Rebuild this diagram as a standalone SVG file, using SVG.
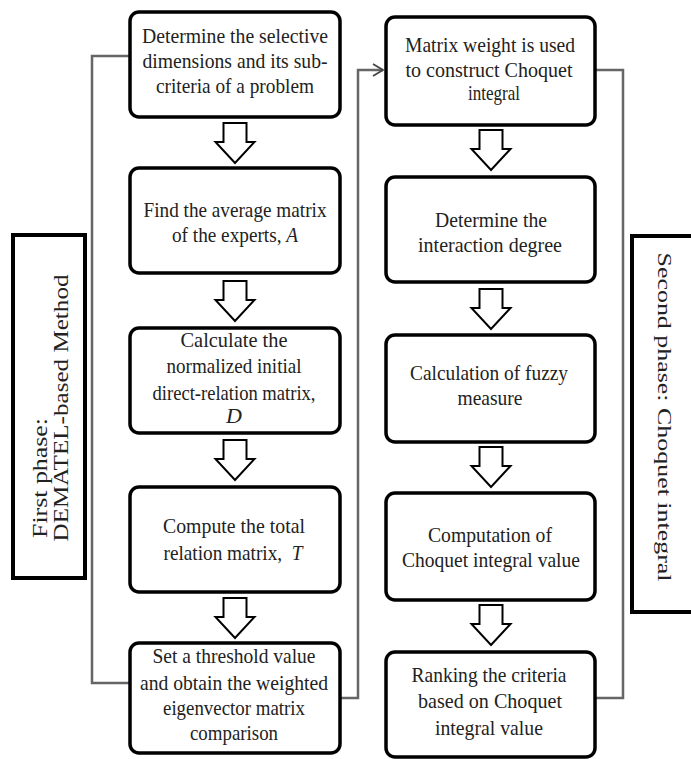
<svg xmlns="http://www.w3.org/2000/svg" width="691" height="759" viewBox="0 0 691 759">
<style>
.box{fill:#fff;stroke:#000;stroke-width:3.5}
.lab{fill:#fff;stroke:#000;stroke-width:4}
.arr{fill:#fff;stroke:#000;stroke-width:2;stroke-linejoin:miter}
.con{fill:none;stroke:#666;stroke-width:2.5}
text{font-family:"Liberation Serif","Times New Roman",serif;font-size:22px;fill:#222}
.t{text-anchor:middle}
.it{font-style:italic}
</style>
<defs>
<marker id="open" markerWidth="14" markerHeight="14" refX="12" refY="7" orient="auto" markerUnits="userSpaceOnUse">
<path d="M2,1 L12,7 L2,13" fill="none" stroke="#444" stroke-width="1.8"/>
</marker>
<path id="dn" d="M-11.5,0 H11.5 V19 H19.5 L0,40 L-19.5,19 H-11.5 Z"/>
</defs>
<g id="connectors">
<polyline class="con" points="130,56 92,56 92,683 130,683"/>
<polyline class="con" points="340,698 358,698 358,70 383,70" marker-end="url(#open)"/>
<polyline class="con" points="595,70 623,70 623,698 595,698"/>
<use href="#dn" class="arr" x="235" y="123"/>
<use href="#dn" class="arr" x="235" y="281"/>
<use href="#dn" class="arr" x="235" y="440"/>
<use href="#dn" class="arr" x="235" y="598"/>
<use href="#dn" class="arr" x="491" y="130"/>
<use href="#dn" class="arr" x="491" y="289"/>
<use href="#dn" class="arr" x="491" y="447"/>
<use href="#dn" class="arr" x="491" y="605"/>
</g>
<g id="phase1">
<rect class="lab" x="13" y="235" width="72" height="343"/>
<text class="t" transform="translate(47,478) rotate(-90)" textLength="120" lengthAdjust="spacingAndGlyphs">First phase:</text>
<text class="t" transform="translate(68,408) rotate(-90)" textLength="267" lengthAdjust="spacingAndGlyphs">DEMATEL-based Method</text>
</g>
<g id="phase2">
<rect class="lab" x="632" y="236" width="70" height="376"/>
<text class="t" transform="translate(658,417) rotate(90)" textLength="329" lengthAdjust="spacingAndGlyphs" style="font-size:19px">Second phase: Choquet integral</text>
</g>
<g id="n1">
<rect class="box" x="130" y="12" width="210" height="105" rx="9"/>
<text class="t" x="235" y="43" textLength="186" lengthAdjust="spacingAndGlyphs">Determine  the selective</text>
<text class="t" x="235" y="68" textLength="185" lengthAdjust="spacingAndGlyphs">dimensions and its sub-</text>
<text class="t" x="235" y="93" textLength="158" lengthAdjust="spacingAndGlyphs">criteria  of a problem</text>
</g>
<g id="n2">
<rect class="box" x="130" y="168" width="210" height="105" rx="9"/>
<text class="t" x="235" y="217" textLength="183" lengthAdjust="spacingAndGlyphs">Find the average matrix</text>
<text class="t" transform="translate(235,242) scale(0.875,1)">of the experts, <tspan class="it">A</tspan></text>
</g>
<g id="n3">
<rect class="box" x="130" y="328" width="210" height="105" rx="9"/>
<text class="t" x="234" y="347" textLength="107" lengthAdjust="spacingAndGlyphs">Calculate the</text>
<text class="t" x="234" y="373" textLength="135" lengthAdjust="spacingAndGlyphs">normalized  initial</text>
<text class="t" x="234" y="400" textLength="163" lengthAdjust="spacingAndGlyphs">direct-relation matrix,</text>
<text class="t it" x="234" y="423">D</text>
</g>
<g id="n4">
<rect class="box" x="130" y="487" width="210" height="105" rx="9"/>
<text class="t" x="234" y="533" textLength="142" lengthAdjust="spacingAndGlyphs">Compute the total</text>
<text class="t" transform="translate(233,560) scale(0.875,1)" xml:space="preserve">relation matrix,  <tspan class="it">T</tspan></text>
</g>
<g id="n5">
<rect class="box" x="130" y="643" width="210" height="110" rx="9"/>
<text class="t" x="234" y="663" textLength="163" lengthAdjust="spacingAndGlyphs">Set a threshold value</text>
<text class="t" x="234" y="690" textLength="188" lengthAdjust="spacingAndGlyphs">and obtain the weighted</text>
<text class="t" x="234" y="715" textLength="142" lengthAdjust="spacingAndGlyphs">eigenvector matrix</text>
<text class="t" x="234" y="740" textLength="88" lengthAdjust="spacingAndGlyphs">comparison</text>
</g>
<g id="n6">
<rect class="box" x="386" y="17" width="209" height="108" rx="9"/>
<text class="t" x="490" y="52" textLength="170" lengthAdjust="spacingAndGlyphs">Matrix  weight is used</text>
<text class="t" x="489" y="77" textLength="167" lengthAdjust="spacingAndGlyphs">to construct Choquet</text>
<text class="t" x="494" y="100" textLength="52" lengthAdjust="spacingAndGlyphs">integral</text>
</g>
<g id="n7">
<rect class="box" x="386" y="177" width="209" height="105" rx="9"/>
<text class="t" x="491" y="227" textLength="112" lengthAdjust="spacingAndGlyphs">Determine  the</text>
<text class="t" x="490" y="252" textLength="144" lengthAdjust="spacingAndGlyphs">interaction degree</text>
</g>
<g id="n8">
<rect class="box" x="386" y="335" width="209" height="107" rx="9"/>
<text class="t" x="489" y="380" textLength="158" lengthAdjust="spacingAndGlyphs">Calculation  of fuzzy</text>
<text class="t" x="490" y="405" textLength="65" lengthAdjust="spacingAndGlyphs">measure</text>
</g>
<g id="n9">
<rect class="box" x="386" y="493" width="209" height="107" rx="9"/>
<text class="t" x="490" y="542" textLength="124" lengthAdjust="spacingAndGlyphs">Computation of</text>
<text class="t" x="491" y="567" textLength="178" lengthAdjust="spacingAndGlyphs">Choquet integral value</text>
</g>
<g id="n10">
<rect class="box" x="386" y="652" width="209" height="105" rx="9"/>
<text class="t" x="489" y="682" textLength="155" lengthAdjust="spacingAndGlyphs">Ranking  the criteria</text>
<text class="t" x="490" y="708" textLength="144" lengthAdjust="spacingAndGlyphs">based on Choquet</text>
<text class="t" x="489" y="735" textLength="108" lengthAdjust="spacingAndGlyphs">integral value</text>
</g>
</svg>
